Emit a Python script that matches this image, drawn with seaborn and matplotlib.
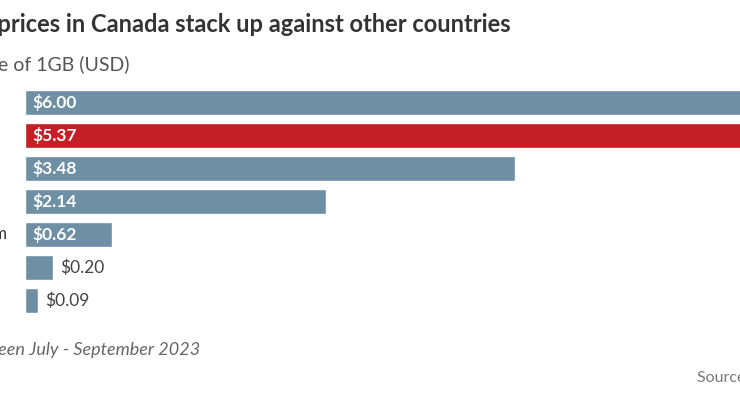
import matplotlib
matplotlib.use("Agg")
import matplotlib.pyplot as plt
import seaborn as sns
import pandas as pd

# data (price of 1GB of mobile data, USD)
countries = ["United States", "Canada", "Japan", "Germany", "United Kingdom", "France", "Italy"]
prices = [6.00, 5.37, 3.48, 2.14, 0.62, 0.20, 0.09]
highlight = "Canada"

title = "How mobile data prices in Canada stack up against other countries"
subtitle = "Price of 1GB (USD)"
note = "Prices collected between July - September 2023"
source = "Source: Cable.co.uk"

BLUE = "#6e8fa4"
RED = "#c41f26"

sns.set_theme(style="white")
plt.rcParams["font.family"] = ["Lato", "DejaVu Sans"]

W, H = 740, 417
fig = plt.figure(figsize=(W / 100, H / 100), dpi=100)

# axes run off the right edge of the frame, like the cropped original
ax = fig.add_axes([25 / W, (H - 317) / H, 887 / W, 231 / H])

df = pd.DataFrame({"country": countries, "price": prices})
palette = {c: (RED if c == highlight else BLUE) for c in countries}
sns.barplot(data=df, x="price", y="country", hue="country", palette=palette,
            orient="h", width=0.78, legend=False, saturation=1, ax=ax)
ax.set_xlim(0, 6.3)
ax.set_ylim(6.5, -0.5)
ax.set_xlabel("")
ax.set_ylabel("")
ax.set_xticks([])
ax.set_yticks([])
sns.despine(ax=ax, left=True, bottom=True)

for i, v in enumerate(prices):
    lbl = f"${v:.2f}"
    if v >= 0.5:
        ax.text(0.05, i, lbl, color="white", fontsize=12.5, fontweight="bold",
                va="center", ha="left")
    else:
        ax.text(v + 0.05, i, lbl, color="#444444", fontsize=12.5,
                va="center", ha="left")

# country names, left aligned, mostly cut off by the left edge
for i, c in enumerate(countries):
    ax.text(-137 / 140.8, i, c, color="#333333", fontsize=12, va="center", ha="left")

renderer = fig.canvas.get_renderer()


def cut_text(full, visible, x_px, y_px, **kw):
    # place full string so the visible part starts at x_px
    prefix = full[: len(full) - len(visible)]
    t = fig.text(0, 0, prefix, **kw)
    w = t.get_window_extent(renderer).width if prefix else 0
    t.remove()
    fig.text((x_px - w) / W, 1 - y_px / H, full, va="center", ha="left", **kw)


cut_text(title, "prices in Canada stack up against other countries", -3, 25,
         fontsize=17, fontweight="bold", color="#333333")
cut_text(subtitle, "e of 1GB (USD)", -2, 64, fontsize=14, color="#555555")
cut_text(note, "een July - September 2023", -2, 350, fontsize=13,
         style="italic", color="#666666")
fig.text(697 / W, 1 - 378 / H, source, fontsize=11.5, color="#777777",
         va="center", ha="left")

fig.savefig("out.png", dpi=100)
